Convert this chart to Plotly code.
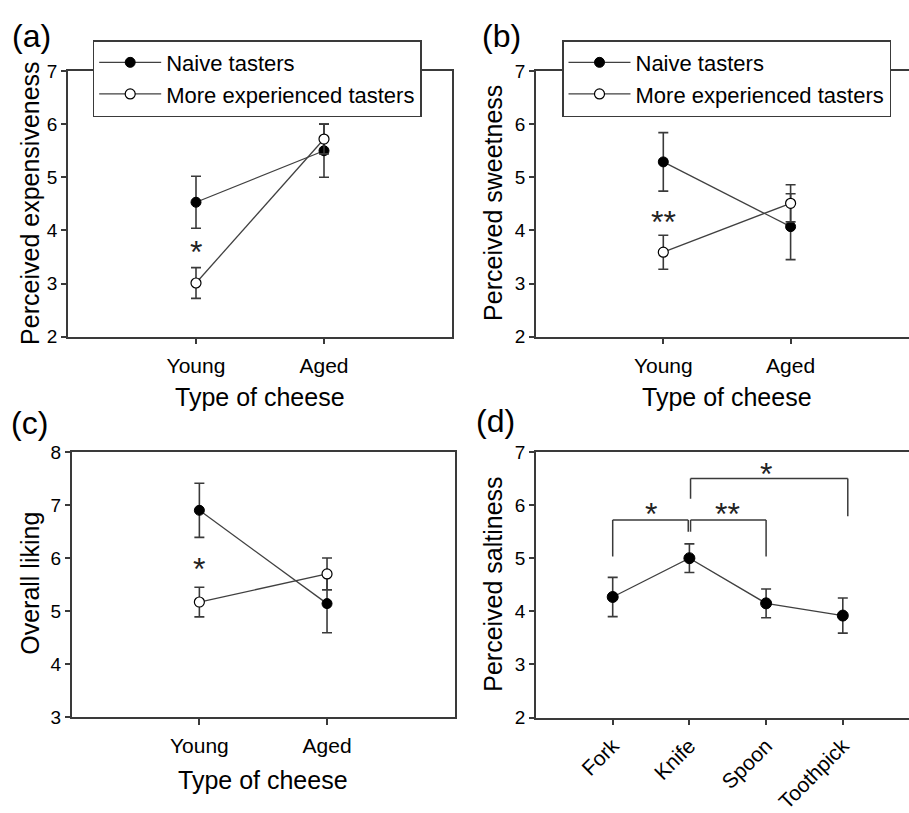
import plotly.graph_objects as go

# ---------------- data ----------------
cheese_types = ["Young", "Aged"]

a_naive = [4.53, 5.50]
a_naive_se = [0.49, 0.50]
a_exp = [3.01, 5.72]
a_exp_se = [0.29, 0.28]

b_naive = [5.29, 4.07]
b_naive_se = [0.55, 0.62]
b_exp = [3.59, 4.51]
b_exp_se = [0.32, 0.35]

c_naive = [6.90, 5.14]
c_naive_se = [0.51, 0.55]
c_exp = [5.17, 5.70]
c_exp_se = [0.28, 0.30]

utensils = ["Fork", "Knife", "Spoon", "Toothpick"]
d_salt = [4.27, 5.00, 4.15, 3.92]
d_salt_se = [0.37, 0.27, 0.27, 0.33]

series_names = ["Naive tasters", "More experienced tasters"]

# significance marks on the Young condition (a, b, c)
sig_a = ("*", 3.74)
sig_b = ("**", 4.31)
sig_c = ("*", 5.94)

# pairwise comparisons in (d): left, right, bar level, left drop, right drop, label, label level
d_comparisons = [
    ("Fork", "Knife", 5.72, 5.03, 5.50, "*", 5.98),
    ("Knife", "Spoon", 5.72, 5.50, 5.03, "**", 5.98),
    ("Knife", "Toothpick", 6.50, 6.12, 5.79, "*", 6.73),
]

y_ticks_abd = [2, 3, 4, 5, 6, 7]
y_ticks_c = [3, 4, 5, 6, 7, 8]

# ---------------- styling ----------------
W, H = 909, 813
FONT = "Arial, Liberation Sans, sans-serif"
AX = "#3a3a3a"
LINE = "#404040"


def fx(p):
    return p / W


def fy(p):
    return 1 - p / H


fig = go.Figure()


def add_pair(naive, naive_se, exp, exp_se, xa, ya, legend, show):
    xs = [i + 1 for i in range(len(cheese_types))]
    fig.add_trace(go.Scatter(
        x=xs, y=naive, mode="lines+markers", name=series_names[0],
        line=dict(color=LINE, width=1.3),
        marker=dict(symbol="circle", size=10, color="black", line=dict(color="black", width=1)),
        error_y=dict(type="data", array=naive_se, color=AX, thickness=1.6, width=5),
        xaxis=xa, yaxis=ya, legend=legend, showlegend=show,
    ))
    fig.add_trace(go.Scatter(
        x=xs, y=exp, mode="lines+markers", name=series_names[1],
        line=dict(color=LINE, width=1.3),
        marker=dict(symbol="circle", size=10, color="white", line=dict(color="black", width=1.2)),
        error_y=dict(type="data", array=exp_se, color=AX, thickness=1.6, width=5),
        xaxis=xa, yaxis=ya, legend=legend, showlegend=show,
    ))


add_pair(a_naive, a_naive_se, a_exp, a_exp_se, "x", "y", "legend", True)
add_pair(b_naive, b_naive_se, b_exp, b_exp_se, "x2", "y2", "legend2", True)
add_pair(c_naive, c_naive_se, c_exp, c_exp_se, "x3", "y3", "legend", False)

xs_d = [i + 1 for i in range(len(utensils))]
fig.add_trace(go.Scatter(
    x=xs_d, y=d_salt, mode="lines+markers", name="Saltiness",
    line=dict(color=LINE, width=1.3),
    marker=dict(symbol="circle", size=11, color="black", line=dict(color="black", width=1)),
    error_y=dict(type="data", array=d_salt_se, color=AX, thickness=1.6, width=5),
    xaxis="x4", yaxis="y4", showlegend=False,
))

common = dict(showline=True, linecolor=AX, linewidth=1.5, ticks="outside",
              tickcolor=AX, tickwidth=1.5, showgrid=False, zeroline=False)

xcheese = dict(common, tickmode="array", tickvals=[1, 2], ticktext=cheese_types,
               ticklen=6, ticklabelstandoff=3,
               tickfont=dict(size=21, color="black", family=FONT))
ycommon = dict(common, ticklen=5, tickmode="array",
               tickfont=dict(size=19, color="black", family=FONT))

legend_style = dict(xanchor="left", yanchor="top", bgcolor="white", bordercolor=AX,
                    borderwidth=1.5, font=dict(size=22, family=FONT, color="black"),
                    itemwidth=62, tracegroupgap=0)

fig.update_layout(
    width=W, height=H,
    margin=dict(l=0, r=0, t=0, b=0),
    paper_bgcolor="white", plot_bgcolor="white",
    font=dict(family=FONT, color="black"),
    xaxis=dict(xcheese, domain=[fx(68), fx(452)], range=[0, 3], mirror=True, anchor="y"),
    yaxis=dict(ycommon, domain=[fy(337), fy(63)], range=[2, 7], tickvals=y_ticks_abd,
               mirror=True, anchor="x"),
    xaxis2=dict(xcheese, domain=[fx(536), 1.0], range=[0, (909 - 536) / 127.3],
                mirror=True, anchor="y2"),
    yaxis2=dict(ycommon, domain=[fy(337), fy(63)], range=[2, 7], tickvals=y_ticks_abd,
                anchor="x2"),
    xaxis3=dict(xcheese, domain=[fx(71.7), fx(454.7)], range=[0, 3], mirror=True, anchor="y3"),
    yaxis3=dict(ycommon, domain=[fy(729.5), fy(456)], range=[3, 8], tickvals=y_ticks_c,
                mirror=True, anchor="x3"),
    xaxis4=dict(common, domain=[fx(536), 1.0], range=[0, (909 - 536) / 76.7],
                tickmode="array", tickvals=xs_d, ticktext=utensils, tickangle=-45,
                ticklen=6, mirror=True, anchor="y4",
                tickfont=dict(size=21, color="black", family=FONT)),
    yaxis4=dict(ycommon, domain=[fy(730), fy(456)], range=[2, 7], tickvals=y_ticks_abd,
                anchor="x4"),
    legend=dict(legend_style, x=fx(92.7), y=fy(31)),
    legend2=dict(legend_style, x=fx(562), y=fy(31)),
)

ann = []
# panel labels
for txt, x, y in [("(a)", 31.7, 27), ("(b)", 501.7, 27), ("(c)", 29, 426), ("(d)", 495, 424)]:
    ann.append(dict(text=txt, x=fx(x), y=fy(y), xref="paper", yref="paper",
                    showarrow=False, font=dict(size=32, family=FONT, color="black"),
                    xanchor="center", yanchor="middle"))

# y-axis titles
for txt, x, y in [("Perceived expensiveness", 30, 199), ("Perceived sweetness", 493, 199),
                  ("Overall liking", 30, 592), ("Perceived saltiness", 493, 593)]:
    ann.append(dict(text=txt, x=fx(x), y=fy(y), xref="paper", yref="paper", textangle=-90,
                    showarrow=False, font=dict(size=25, family=FONT, color="black"),
                    xanchor="center", yanchor="middle"))

# x-axis titles
for xr, y in [("x", 399), ("x2", 399), ("x3", 794)]:
    ann.append(dict(text="Type of cheese", x=1.5, y=fy(y), xref=xr, yref="paper",
                    showarrow=False, font=dict(size=25, family=FONT, color="black"),
                    xanchor="center", yanchor="middle"))

# significance marks
for (txt, yv), xr, yr in [(sig_a, "x", "y"), (sig_b, "x2", "y2"), (sig_c, "x3", "y3")]:
    ann.append(dict(text=txt, x=1, y=yv, xref=xr, yref=yr, showarrow=False, yshift=-8,
                    font=dict(size=32, family=FONT, color="#222"),
                    xanchor="center", yanchor="middle"))

shapes = []
pos = {u: i + 1 for i, u in enumerate(utensils)}
offs = {("Fork", "Knife"): (0.0, -0.015), ("Knife", "Spoon"): (0.015, 0.0),
        ("Knife", "Toothpick"): (0.015, 0.065)}
for left, right, ybar, yl, yrr, lab, ylab in d_comparisons:
    ol, orr = offs[(left, right)]
    x0 = pos[left] + ol
    x1 = pos[right] + orr
    for seg in [(x0, yl, x0, ybar), (x0, ybar, x1, ybar), (x1, ybar, x1, yrr)]:
        shapes.append(dict(type="line", xref="x4", yref="y4", x0=seg[0], y0=seg[1],
                           x1=seg[2], y1=seg[3], line=dict(color=AX, width=1.5)))
    ann.append(dict(text=lab, x=(pos[left] + pos[right]) / 2, y=ylab, xref="x4", yref="y4",
                    showarrow=False, yshift=-8, font=dict(size=32, family=FONT, color="#222"),
                    xanchor="center", yanchor="middle"))

fig.update_layout(annotations=ann, shapes=shapes)

fig.write_html(
    "out.html",
    config={"displayModeBar": False},
    post_script="document.body.style.margin='0';document.body.style.padding='0';"
                "document.body.style.overflow='hidden';",
)
